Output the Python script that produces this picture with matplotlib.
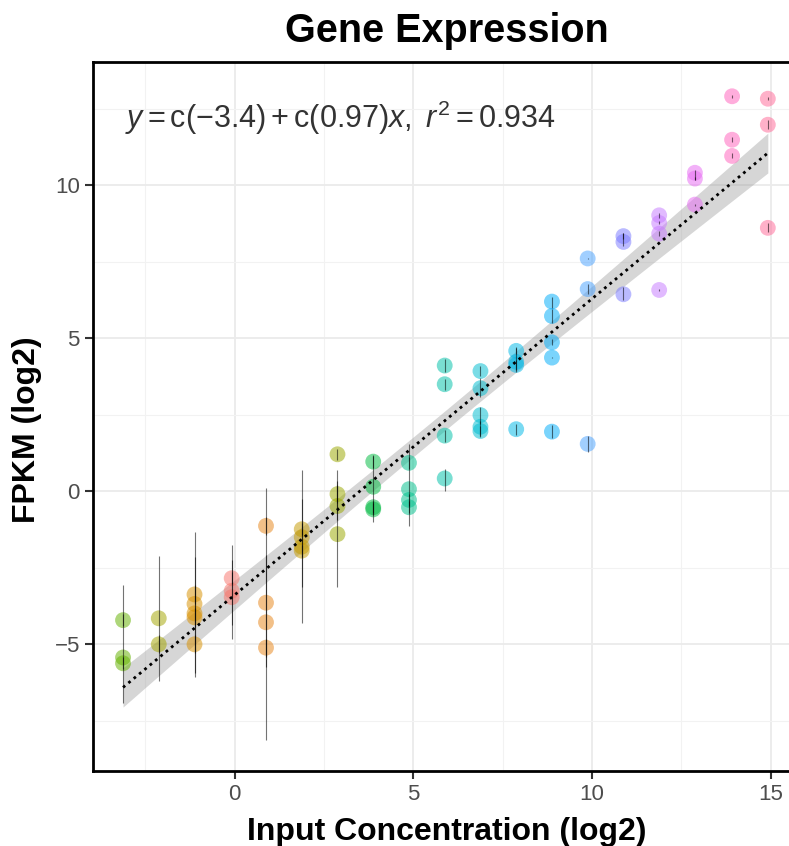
import matplotlib
matplotlib.use('Agg')
import matplotlib.pyplot as plt
from matplotlib.ticker import MultipleLocator
import numpy as np

plt.rcParams['font.family'] = ['Liberation Sans', 'DejaVu Sans']
plt.rcParams['mathtext.fontset'] = 'custom'
plt.rcParams['mathtext.rm'] = 'Liberation Sans'
plt.rcParams['mathtext.it'] = 'Liberation Sans:italic'

# input concentration (log2), one entry per spike-in group
conc = [-3.12, -2.12, -1.12, -0.08, 0.88, 1.88, 2.88, 3.88, 4.88, 5.88,
        6.88, 7.88, 8.88, 9.88, 10.88, 11.88, 12.88, 13.92, 14.92]
group_colors = ['#64B200', '#A3A500', '#D89000', '#F8766D', '#E7861B', '#C49A00',
                '#9AA800', '#00BA42', '#00C08D', '#00C1A9', '#00BDD0', '#00B8E7',
                '#00ADFA', '#4CA3FF', '#7B7BFF', '#C77CFF', '#E76BF3', '#FF62BC', '#FF6A98']

# measured FPKM (log2) per group
fpkm = [
    [-4.21, -5.43, -5.62],
    [-4.15, -5.00],
    [-3.37, -3.68, -3.99, -4.12, -5.00],
    [-2.84, -3.25, -3.46],
    [-1.13, -3.64, -4.28, -5.11],
    [-1.24, -1.50, -1.81, -1.94],
    [1.21, -0.09, -0.48, -1.40],
    [0.97, 0.15, -0.52, -0.59],
    [0.93, 0.07, -0.28, -0.52],
    [4.11, 3.50, 1.82, 0.42],
    [3.93, 3.37, 2.49, 2.11, 1.97],
    [4.59, 4.23, 4.13, 2.03],
    [6.20, 5.73, 4.87, 4.37, 1.95],
    [7.61, 6.61, 1.55],
    [8.34, 8.15, 6.44],
    [9.02, 8.77, 8.42, 6.58],
    [10.41, 10.22, 9.37],
    [12.91, 11.49, 10.96],
    [12.83, 11.98, 8.61],
]
# error bar extent below / above each point
err_lo = [
    [0.2, 1.48, 0.2],
    [2.05, 0.3],
    [0.3, 2.38, 1.95, 0.3, 0.3],
    [0.2, 1.59, 0.91],
    [0.3, 2.09, 3.84, 0.3],
    [0.2, 1.63, 2.50, 0.2],
    [0.18, 0.3, 0.46, 1.72],
    [0.2, 1.14, 0.2, 0.2],
    [0.2, 1.20, 0.2, 0.2],
    [0.2, 0.18, 0.2, 0.40],
    [0.15, 0.28, 0.30, 0.33, 0.15],
    [0.1, 0.32, 0.15, 0.18],
    [0.22, 0.22, 0.1, 0.02, 0.21],
    [0.03, 0.15, 0.26],
    [0.1, 0.13, 0.19],
    [0.08, 0.05, 0.08, 0.03],
    [0.25, 0.06, 0.03],
    [0.05, 0.08, 0.08],
    [0.05, 0.15, 0.15],
]
err_hi = [
    [0.2, 2.36, 0.2],
    [2.04, 0.3],
    [0.3, 2.34, 1.85, 0.3, 0.3],
    [0.2, 1.50, 1.22],
    [0.3, 1.56, 4.39, 0.3],
    [0.2, 1.25, 2.51, 0.2],
    [0.18, 0.3, 0.82, 2.10],
    [0.2, 1.04, 0.2, 0.2],
    [0.2, 1.48, 0.2, 0.2],
    [0.2, 0.18, 0.2, 0.31],
    [0.15, 0.33, 0.25, 0.20, 0.15],
    [0.1, 0.49, 0.15, 0.18],
    [0.16, 0.23, 0.1, 0.02, 0.22],
    [0.03, 0.15, 0.26],
    [0.1, 0.29, 0.23],
    [0.08, 0.05, 0.08, 0.03],
    [0.08, 0.06, 0.03],
    [0.05, 0.08, 0.08],
    [0.05, 0.15, 0.15],
]

x, y, lo, hi, cols = [], [], [], [], []
for c, col, ys, l, h in zip(conc, group_colors, fpkm, err_lo, err_hi):
    for v, a, b in zip(ys, l, h):
        x.append(c); y.append(v); lo.append(v - a); hi.append(v + b); cols.append(col)
x = np.array(x); y = np.array(y)

# linear fit with 95% confidence band
slope, intercept = np.polyfit(x, y, 1)
n = len(x)
resid = y - (intercept + slope * x)
s = np.sqrt(np.sum(resid ** 2) / (n - 2))
xs = np.linspace(x.min(), x.max(), 200)
fit = intercept + slope * xs
se = s * np.sqrt(1 / n + (xs - x.mean()) ** 2 / np.sum((x - x.mean()) ** 2))
t = 1.995  # t(0.975, df ~ 68)

fig = plt.figure(figsize=(7.89, 8.46), dpi=100)
ax = fig.add_axes([93 / 789, 75 / 846, 707 / 789, 709 / 846])

ax.scatter(x, y, s=130, c=cols, alpha=0.52, linewidths=0, zorder=3)
ax.vlines(x, lo, hi, color='black', alpha=0.55, linewidth=0.8, zorder=4)
ax.fill_between(xs, fit - t * se, fit + t * se, color='#999999', alpha=0.4, linewidth=0, zorder=2)
ax.plot(xs, fit, color='black', linestyle=(0, (1.0, 1.5)), linewidth=2.0, zorder=5)

ax.text(-3.07, 12.2, r'$y = \mathrm{c}(-3.4) + \mathrm{c}(0.97)x,\ r^2 = 0.934$',
        fontsize=22, color='#333333', ha='left', va='center', zorder=6)

ax.set_xlim(-3.96, 15.82)
ax.set_ylim(-9.14, 14.03)
ax.xaxis.set_major_locator(MultipleLocator(5))
ax.yaxis.set_major_locator(MultipleLocator(5))
ax.xaxis.set_minor_locator(MultipleLocator(2.5))
ax.yaxis.set_minor_locator(MultipleLocator(2.5))
ax.grid(which='major', color='#EBEBEB', linewidth=1.3, zorder=0)
ax.grid(which='minor', color='#F2F2F2', linewidth=0.8, zorder=0)
ax.set_axisbelow(True)
ax.tick_params(which='major', length=5.5, width=1.5, color='#333333',
               labelsize=16, labelcolor='#4D4D4D', pad=4)
ax.tick_params(which='minor', length=0)
ax.set_yticks([-5, 0, 5, 10])
ax.set_yticklabels(['\u22125', '0', '5', '10'])
ax.set_xticks([0, 5, 10, 15])
for sp in ax.spines.values():
    sp.set_linewidth(2.0)
    sp.set_color('black')

fig.text(446.5 / 789, 1 - 42 / 846, 'Gene Expression', fontsize=28.5, fontweight='bold',
         ha='center', va='baseline')
fig.text(446.5 / 789, 1 - 840 / 846, 'Input Concentration (log2)', fontsize=23,
         fontweight='bold', ha='center', va='baseline')
fig.text(27 / 789, 416.5 / 846, 'FPKM (log2)', fontsize=23, fontweight='bold',
         rotation=90, ha='center', va='center')

fig.savefig('out.png', dpi=100)
